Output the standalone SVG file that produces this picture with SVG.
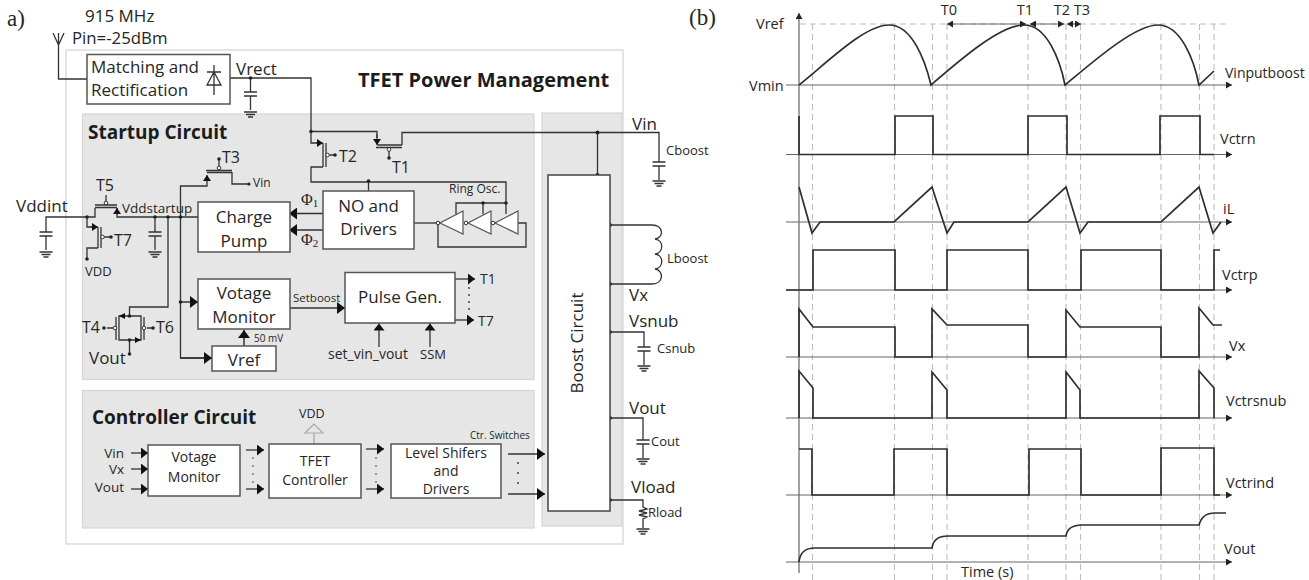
<svg xmlns="http://www.w3.org/2000/svg" width="1309" height="580" viewBox="0 0 1309 580">
<style>
text{font-family:"Open Sans","Noto Sans","Liberation Sans",sans-serif;fill:#262626;font-size:15px}
.w{fill:none;stroke:#333;stroke-width:1.3}
.b{fill:#fff;stroke:#555;stroke-width:1.5}
.zone{fill:#e6e6e6;stroke:#d6d6d6;stroke-width:1.2}
.h{font-weight:700;font-size:19px;fill:#1c1c1c}
.c{text-anchor:middle}
.s{font-size:12px}
.xs{font-size:10px}
.m{font-size:13px}
.l{font-size:17px}
.tl{font-size:16px}
.wa{fill:none;stroke:#333;stroke-width:1.5;marker-end:url(#big)}
.ws{fill:none;stroke:#333;stroke-width:1.3;marker-end:url(#sm)}
.wt{fill:none;stroke:#333;stroke-width:1.1;marker-end:url(#tiny)}
.d{fill:#222}
.o{fill:#fff;stroke:#333;stroke-width:1}
.ax{fill:none;stroke:#666;stroke-width:1.2;marker-end:url(#axh)}
.dash{fill:none;stroke:#bdbdbd;stroke-width:1.1;stroke-dasharray:6 4}
.sig{fill:none;stroke:#2e2e2e;stroke-width:1.7}
.pb{font-size:14.500px}
</style>
<defs>
<marker id="big" markerUnits="userSpaceOnUse" markerWidth="9" markerHeight="12" refX="8" refY="6" orient="auto"><path d="M0 0L8 6L0 12Z" fill="#111"/></marker>
<marker id="sm" markerUnits="userSpaceOnUse" markerWidth="8" markerHeight="11" refX="7" refY="5.500" orient="auto"><path d="M0 0L7 5.500L0 11Z" fill="#111"/></marker>
<marker id="tiny" markerUnits="userSpaceOnUse" markerWidth="7" markerHeight="8" refX="6" refY="4" orient="auto"><path d="M0 0L6 4L0 8Z" fill="#111"/></marker>
<marker id="axh" markerUnits="userSpaceOnUse" markerWidth="7" markerHeight="8" refX="6" refY="3.500" orient="auto"><path d="M0 0L6 3.500L0 7Z" fill="#222"/></marker>
<marker id="axs" markerUnits="userSpaceOnUse" markerWidth="7" markerHeight="8" refX="0" refY="3.500" orient="auto"><path d="M6 0L0 3.500L6 7Z" fill="#222"/></marker>
<g id="gnd"><path class="w" d="M-6.500 0H6.500M-4.500 2.500H4.500M-2.500 5H2.500"/></g>
<g id="cap"><path class="w" d="M-6.500 0H6.500M-6.500 4H6.500M0 4V18"/></g>
</defs>

<g id="outer"><rect x="66" y="50" width="557" height="494" fill="#fff" stroke="#d9d9d9" stroke-width="1.4"/></g>
<g id="startup-zone"><rect class="zone" x="82.500" y="114" width="451.500" height="265.500"/></g>
<g id="controller-zone"><rect class="zone" x="82.500" y="390.500" width="451.500" height="137.500"/></g>
<g id="boost-zone"><rect class="zone" x="542" y="113" width="80" height="413"/></g>

<g id="titles">
<text x="7" y="26" style="font-family:'Liberation Serif',serif;font-size:23px">a)</text>
<text x="85" y="22" style="font-size:17px">915 MHz</text>
<text x="72" y="44" style="font-size:16.800px">Pin=-25dBm</text>
<text class="h" x="358" y="87" style="font-size:20px">TFET Power Management</text>
<text class="h" x="88" y="139">Startup Circuit</text>
<text class="h" x="92" y="424">Controller Circuit</text>
</g>

<g id="connectors">
<path class="w" d="M53 33L58.500 45L64 33M58.500 33V79H87"/>
<path class="w" d="M230 78H311V143H322"/>
<path class="w" d="M250.500 78V92"/>
<path class="w" d="M311 131.500H377V138"/>
<path class="w" d="M402 145V132.500H659V162"/>
<path class="w" d="M597.500 132.500V175" stroke-width="1.6"/>
<path class="w" d="M323 167H311V182H506V204"/>
<path class="w" d="M368.500 182V191"/>
<path class="wa" d="M323 213.500H289"/>
<path class="wa" d="M323 230H289"/>
<path class="w" d="M414 223H438"/>
<path class="w" d="M518 223H526V247H438V223"/>
<path class="w" d="M456 214V203H506V214M483 203V214"/>
<path class="w" d="M46 232V217H95V208M117 208V217H198"/>
<path class="w" d="M87 217V227H97M98 248H87V259"/>
<path class="w" d="M155 217V232M168 217V307H129.500V316"/>
<path class="w" d="M180.500 217V186H207V176M232 172V184H249"/>
<path class="w" d="M180.500 217V358H212"/>
<path class="wa" d="M180.500 302H198"/>
<path class="wa" d="M180.500 358H212"/>
<path class="wa" d="M244 346V330"/>
<path class="w" d="M129.500 340V354"/>
<path class="wa" d="M290 308H345"/>
<path class="ws" d="M455 279H475"/>
<path class="ws" d="M455 320H474"/>
<path class="ws" d="M379 347V323.500"/>
<path class="ws" d="M430 347V323.500"/>
<path class="w" d="M610 225H652C664 225 664 238 655 239C664 240 664 253 655 254C664 255 664 268 655 269C664 270 664 284 652 284H610"/>
<path class="w" d="M610 332H644V347M610 418H643V440M610 500H643V507L647 509L639 511L647 513L639 515L647 517L643 519V528"/>
<path class="w" d="M314 444V433" style="stroke:#aaa"/>
<path d="M314 424L305 433H323Z" fill="#e6e6e6" stroke="#aaa" stroke-width="1.2"/>
<path class="ws" d="M131 453H148"/><path class="ws" d="M131 469H148"/><path class="ws" d="M131 489H148"/>
<path class="ws" d="M246 450H264"/><path class="ws" d="M246 489H264"/>
<path class="ws" d="M366 449H384"/><path class="ws" d="M366 489H384"/>
<path class="wa" d="M508 454H545"/><path class="wa" d="M508 494H545"/>
<g fill="#333">
<circle cx="253" cy="458" r=".8"/><circle cx="253" cy="466" r=".8"/><circle cx="253" cy="474" r=".8"/><circle cx="253" cy="482" r=".8"/>
<circle cx="376" cy="458" r=".8"/><circle cx="376" cy="466" r=".8"/><circle cx="376" cy="474" r=".8"/><circle cx="376" cy="482" r=".8"/>
<circle cx="518" cy="463" r=".9"/><circle cx="518" cy="473" r=".9"/><circle cx="518" cy="483" r=".9"/>
<circle cx="469" cy="288" r=".9"/><circle cx="469" cy="295" r=".9"/><circle cx="469" cy="302" r=".9"/><circle cx="469" cy="309" r=".9"/>
</g>
<g class="d">
<circle cx="250.500" cy="78" r="1.800"/><circle cx="311" cy="131.500" r="1.800"/><circle cx="597.500" cy="132.500" r="2"/><circle cx="597.500" cy="175" r="2"/>
<circle cx="368.500" cy="181" r="1.800"/><circle cx="483" cy="203" r="1.800"/><circle cx="506" cy="203" r="1.800"/>
<circle cx="87" cy="217" r="1.800"/><circle cx="155" cy="217" r="1.800"/><circle cx="168" cy="217" r="1.800"/><circle cx="180.500" cy="217" r="1.800"/>
<circle cx="180.500" cy="302" r="1.800"/><circle cx="87" cy="259" r="1.800"/>
<circle cx="610" cy="225" r="1.900"/><circle cx="610" cy="284" r="1.900"/><circle cx="610" cy="332" r="1.900"/><circle cx="610" cy="418" r="1.900"/><circle cx="610" cy="500" r="1.900"/>
<circle cx="129.500" cy="354" r="1.800"/><circle cx="249" cy="184" r="1.600"/>
</g>
</g>

<g id="passives">
<use href="#cap" x="250.500" y="92"/><use href="#gnd" x="250.500" y="112"/>
<use href="#cap" x="46" y="232"/><use href="#gnd" x="46" y="252"/>
<use href="#cap" x="155" y="232"/><use href="#gnd" x="155" y="252"/>
<use href="#cap" x="659" y="162"/><use href="#gnd" x="659" y="181"/>
<use href="#cap" x="644" y="347"/><use href="#gnd" x="644" y="366"/>
<use href="#cap" x="643" y="440"/><use href="#gnd" x="643" y="459"/>
<use href="#gnd" x="643" y="529"/>
</g>

<g id="matching"><rect class="b" x="87" y="54.500" width="143" height="49.500"/>
<text x="91" y="73" class="l">Matching and</text><text x="91" y="96" class="l">Rectification</text>
<path class="w" d="M214 65V95M207 72H221M214 72L207 85H221Z"/></g>

<g id="T1"><path class="wt" d="M377 134V145" style="stroke-width:1.2"/><path class="w" d="M377 145H402M376 147.500H402M389 150V158"/><circle class="o" cx="389" cy="149.500" r="1.800"/><circle class="d" cx="389" cy="158" r="1.800"/><text x="392" y="173" class="tl">T1</text></g>
<g id="T2"><path class="wt" d="M316 143H323"/><path class="w" d="M323 143V167M326 143V167M329 155H335"/><circle class="o" cx="327.500" cy="155" r="1.800"/><circle class="d" cx="335" cy="155" r="1.800"/><text x="339" y="162" class="tl">T2</text></g>
<g id="T3"><path class="wt" d="M207 180V175"/><path class="w" d="M207 172.500H232M206 170.500H232M219 166V159"/><circle class="o" cx="219" cy="168" r="1.800"/><circle class="d" cx="219" cy="159" r="1.800"/><text x="222" y="163" class="tl">T3</text><text x="253" y="187" class="s">Vin</text></g>
<g id="T5"><path class="wt" d="M117 214V208"/><path class="w" d="M95 207.500H117M95 205H117M106 201V195"/><circle class="o" cx="106" cy="203" r="1.800"/><text x="96" y="191" class="tl">T5</text></g>
<g id="T7"><path class="wt" d="M90 227H98"/><path class="w" d="M98 227V248M101 227V248M104 237H111"/><circle class="o" cx="102.500" cy="237" r="1.800"/><circle class="d" cx="111" cy="237" r="1.800"/><text x="114" y="246" class="tl">T7</text><text x="85" y="276" class="m">VDD</text></g>
<g id="T4T6"><path class="w" d="M119 316H141V340H119ZM116 317V340M144 317V340M107 328H113M147 328H153"/><path d="M125 313V319L119 316ZM135 337V343L141 340Z" fill="#111"/><circle class="o" cx="115" cy="328" r="1.800"/><circle class="o" cx="144" cy="328" r="1.800"/><circle class="d" cx="104" cy="328" r="1.800"/><circle class="d" cx="153" cy="328" r="1.800"/><circle class="d" cx="129.500" cy="316" r="1.800"/><circle class="d" cx="129.500" cy="340" r="1.800"/>
<text x="82" y="333" class="tl">T4</text><text x="156" y="333" class="tl">T6</text><text x="89" y="364" class="l">Vout</text></g>

<g id="labels-left"><text x="16" y="212" class="l">Vddint</text><text x="122" y="213" style="font-size:13.500px">Vddstartup</text><text x="236" y="75" class="l">Vrect</text></g>

<g id="charge-pump"><rect class="b" x="198" y="202" width="92" height="50"/><text class="c l" x="244" y="223">Charge</text><text class="c l" x="244" y="247">Pump</text></g>
<g id="no-drivers"><rect class="b" x="323" y="191" width="91" height="58"/><text class="c l" x="368.500" y="212">NO and</text><text class="c l" x="368.500" y="235">Drivers</text>
<text x="301" y="205" style="font-family:'Liberation Serif',serif;font-size:16px">Φ<tspan font-size="11" dy="2">1</tspan></text><text x="301" y="245" style="font-family:'Liberation Serif',serif;font-size:16px">Φ<tspan font-size="11" dy="2">2</tspan></text></g>
<g id="ring-osc"><path class="b" d="M463 211V234L440 223ZM491 211V234L468 223ZM518 211V234L495 223Z" style="stroke-width:1.2"/><circle class="o" cx="438" cy="223" r="1.800"/><circle class="o" cx="466" cy="223" r="1.800"/><circle class="o" cx="493" cy="223" r="1.800"/><text x="449" y="193" class="s">Ring Osc.</text></g>
<g id="voltage-monitor"><rect class="b" x="198" y="279" width="92" height="50"/><text class="c l" x="244" y="299">Votage</text><text class="c l" x="244" y="323">Monitor</text><text x="293" y="302" style="font-size:11.500px">Setboost</text><text x="254" y="342" class="xs">50 mV</text></g>
<g id="vref"><rect class="b" x="212" y="346" width="64" height="25"/><text class="c l" x="244" y="366">Vref</text></g>
<g id="pulse-gen"><rect class="b" x="345" y="272.500" width="110" height="50.500"/><text class="c l" x="400" y="303">Pulse Gen.</text><text x="480" y="284" style="font-size:14px">T1</text><text x="478" y="326" style="font-size:14px">T7</text><text x="328" y="359" style="font-size:14px">set_vin_vout</text><text x="420" y="359" style="font-size:13px">SSM</text></g>

<g id="boost"><rect class="b" x="548" y="175" width="62" height="336" style="stroke:#444"/><text class="c" transform="translate(583 343) rotate(-90)" style="font-size:17px">Boost Circuit</text></g>
<g id="labels-right"><text x="632" y="130" class="l">Vin</text><text x="666" y="155" class="m">Cboost</text><text x="667" y="263" class="m">Lboost</text><text x="629" y="301" class="l">Vx</text><text x="629" y="327" class="l">Vsnub</text><text x="657" y="353" class="m">Csnub</text><text x="629" y="414" class="l">Vout</text><text x="651" y="446" class="m">Cout</text><text x="631" y="493" class="l">Vload</text><text x="648" y="517" class="m">Rload</text></g>

<g id="ctl-inputs"><text x="124" y="458" text-anchor="end" style="font-size:13.500px">Vin</text><text x="124" y="474" text-anchor="end" style="font-size:13.500px">Vx</text><text x="124" y="492" text-anchor="end" style="font-size:13.500px">Vout</text><text x="299" y="418" style="font-size:12.500px">VDD</text><text x="470" y="439" class="xs">Ctr. Switches</text></g>
<g id="ctl-monitor"><rect class="b" x="148" y="445" width="92" height="51"/><text class="c" x="194" y="462" style="font-size:14px">Votage</text><text class="c" x="194" y="482" style="font-size:14px">Monitor</text></g>
<g id="tfet"><rect class="b" x="269" y="444" width="92" height="54"/><text class="c" x="315" y="466" style="font-size:14px">TFET</text><text class="c" x="315" y="485" style="font-size:14px">Controller</text></g>
<g id="level"><rect class="b" x="391" y="444" width="110" height="54"/><text class="c" x="446" y="458" style="font-size:14px">Level Shifers</text><text class="c" x="446" y="476" style="font-size:14px">and</text><text class="c" x="446" y="494" style="font-size:14px">Drivers</text></g>

<g id="panel-b">
<text x="689" y="25" style="font-family:'Liberation Serif',serif;font-size:23px">(b)</text>
<path class="dash" d="M800 24H1228M812.500 24V580M894.500 24V580M932.500 24V580M947 24V580M1028 24V580M1066 24V580M1080.500 24V580M1161 24V580M1199.500 24V580M1214 24V580"/>
<path class="ax" d="M799 573V13"/>
<path class="ax" d="M786 85H1232"/><path class="ax" d="M786 154.500H1232"/><path class="ax" d="M786 222H1232"/><path class="ax" d="M786 290H1232"/><path class="ax" d="M786 357H1232"/><path class="ax" d="M786 418H1232"/><path class="ax" d="M786 495H1232"/><path class="ax" d="M786 562H1232"/>
<path class="sig" d="M799 85C830 60 865 25 889 25C912 25 925 60 931 85C960 60 1000 25 1024 25C1047 25 1060 60 1065 85C1095 60 1135 25 1158 25C1181 25 1194 60 1199 85L1214 71"/>
<path class="sig" d="M799 116V154.500H895V116H933V154.500H1028V116H1067V154.500H1160V116H1200V154.500H1214"/>
<path class="sig" d="M799 187L812 233L820 222H894L932 187L947 233L954 222H1028L1066 187L1080 233L1088 222H1161L1199 187L1213 233L1221 222"/>
<path class="sig" d="M786 290H813V250H895V290H947V250H1028V290H1081V250H1161V290H1214V250H1220"/>
<path class="sig" d="M799 357V309L813 327H895V357H932V309L947 325H1028V357H1066V310L1080 327H1161V357H1199V308L1213 325H1222"/>
<path class="sig" d="M799 418V371L813 388V418H932V372L947 390V418H1066V372L1080 390V418H1199V371L1214 388V418"/>
<path class="sig" d="M799 449H812V495H894V449H947V495H1029V449H1081V495H1161V448H1214V495H1220"/>
<path class="sig" d="M799 562C800 552 805 548 815 548H932C933 540 938 536 948 536H1066C1067 529 1072 525 1082 525H1199C1201 517 1206 513 1215 513H1226"/>
<g><path class="ax" style="marker-start:url(#axs)" d="M947 24H1026"/><path class="ax" style="marker-start:url(#axs)" d="M1030 24H1064"/><path class="ax" style="marker-start:url(#axs)" d="M1067 24H1081"/></g>
<text x="756" y="29" class="pb">Vref</text><text x="749" y="91" class="pb">Vmin</text>
<text class="c pb" x="949" y="15">T0</text><text class="c pb" x="1025" y="15">T1</text><text class="c pb" x="1062" y="15">T2</text><text class="c pb" x="1082" y="15">T3</text>
<text x="1225" y="78" style="font-size:14px">Vinputboost</text><text x="1220" y="144" class="pb">Vctrn</text><text x="1223" y="214" class="pb">iL</text><text x="1222" y="280" class="pb">Vctrp</text><text x="1229" y="351" class="pb">Vx</text><text x="1226" y="406" class="pb">Vctrsnub</text><text x="1226" y="488" class="pb">Vctrind</text><text x="1224" y="554" class="pb">Vout</text><text x="961" y="577" class="pb">Time (s)</text>
</g>
</svg>
